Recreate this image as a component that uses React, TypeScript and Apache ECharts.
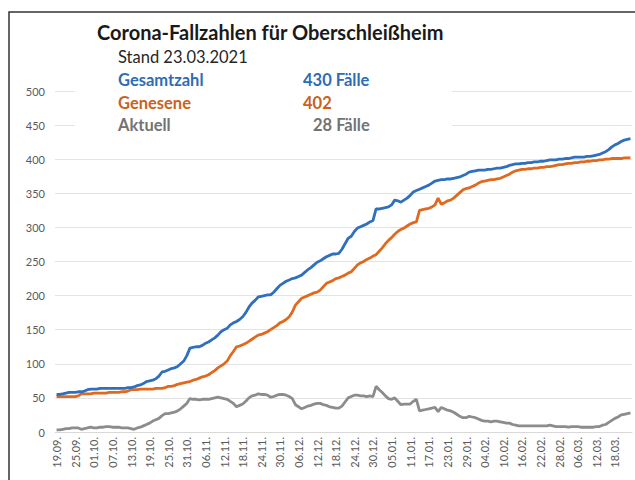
import React, { useEffect, useRef } from "react";
import * as echarts from "echarts";

// Daily categories 19.09.2020 – 23.03.2021
const monthSpans: [number, number, number][] = [
  // [month, firstDay, lastDay]
  [9, 19, 30],
  [10, 1, 31],
  [11, 1, 30],
  [12, 1, 31],
  [1, 1, 31],
  [2, 1, 28],
  [3, 1, 23],
];
const categories: string[] = [];
monthSpans.forEach(([m, a, b]) => {
  for (let d = a; d <= b; d++) {
    categories.push(String(d).padStart(2, "0") + "." + String(m).padStart(2, "0") + ".");
  }
});

const yTicks = [0, 50, 100, 150, 200, 250, 300, 350, 400, 450, 500];

// Gesamtzahl (rows of 6 days, each row starts at a labelled date)
const gesamtzahl = [
  55, 55, 56, 57, 58, 58,
  58, 59, 59, 60, 62, 63,
  63, 63, 64, 64, 64, 64,
  64, 64, 64, 64, 64, 65,
  65, 66, 68, 69, 71, 74,
  75, 76, 78, 82, 88, 89,
  91, 93, 94, 96, 100, 104,
  112, 123, 124, 125, 125, 127,
  130, 132, 135, 138, 142, 147,
  150, 152, 157, 160, 162, 165,
  169, 175, 183, 189, 193, 198,
  199, 200, 201, 201, 205, 210,
  215, 218, 221, 223, 225, 226,
  228, 230, 234, 238, 241, 245,
  249, 251, 254, 257, 259, 261,
  261, 262, 268, 276, 284, 287,
  294, 299, 301, 303, 305, 308,
  310, 327, 327, 328, 329, 330,
  333, 340, 339, 337, 340, 343,
  347, 352, 354, 356, 358, 360,
  362, 365, 368, 369, 370, 370,
  371, 371, 372, 373, 374, 376,
  378, 381, 382, 383, 384, 384,
  384, 385, 385, 386, 387, 387,
  388, 389, 391, 392, 393, 393,
  394, 394, 395, 395, 396, 396,
  397, 397, 398, 399, 399, 399,
  400, 400, 401, 401, 402, 403,
  403, 403, 403, 404, 404, 405,
  406, 407, 409, 411, 414, 418,
  421, 423, 426, 428, 429, 430,
];

// Genesene
const genesene = [
  52, 52, 52, 52, 52, 52,
  52, 53, 56, 56, 56, 56,
  57, 57, 57, 57, 57, 58,
  58, 58, 58, 59, 59, 60,
  62, 62, 62, 63, 63, 63,
  63, 63, 64, 64, 64, 65,
  67, 67, 68, 70, 71, 72,
  73, 74, 76, 77, 79, 81,
  82, 84, 87, 90, 94, 97,
  100, 104, 112, 118, 125, 126,
  128, 130, 133, 136, 139, 142,
  143, 145, 147, 150, 153, 156,
  160, 162, 165, 169, 176, 186,
  191, 196, 198, 200, 202, 204,
  205, 208, 213, 218, 220, 222,
  225, 226, 228, 230, 233, 235,
  240, 245, 248, 250, 253, 255,
  258, 260, 265, 270, 276, 281,
  285, 290, 294, 297, 299, 302,
  305, 307, 308, 325, 326, 327,
  328, 330, 333, 343, 334, 336,
  339, 340, 343, 347, 351, 355,
  357, 358, 360, 362, 365, 367,
  368, 369, 370, 370, 371, 372,
  374, 376, 378, 381, 383, 384,
  385, 385, 386, 386, 387, 387,
  388, 388, 389, 389, 390, 391,
  392, 392, 393, 394, 394, 395,
  395, 396, 396, 397, 397, 398,
  398, 399, 399, 400, 400, 401,
  401, 401, 401, 402, 402, 402,
];

// Aktuell
const aktuell = [
  3, 3, 4, 5, 5, 6,
  6, 6, 4, 5, 6, 7,
  6, 6, 7, 7, 8, 8,
  7, 7, 7, 6, 6, 6,
  5, 4, 6, 7, 9, 11,
  13, 16, 18, 20, 24, 27,
  27, 28, 29, 31, 34, 38,
  42, 49, 48, 48, 47, 48,
  48, 48, 49, 50, 51, 50,
  49, 48, 45, 42, 37, 39,
  41, 45, 50, 53, 54, 56,
  55, 55, 54, 51, 52, 54,
  55, 55, 54, 52, 49, 40,
  37, 34, 36, 38, 39, 41,
  42, 42, 40, 39, 37, 36,
  35, 35, 38, 44, 50, 52,
  54, 54, 53, 53, 52, 53,
  52, 67, 62, 58, 53, 49,
  48, 50, 45, 40, 41, 41,
  41, 45, 48, 31, 32, 33,
  34, 35, 36, 30, 36, 34,
  32, 31, 29, 26, 23, 21,
  21, 23, 22, 21, 19, 17,
  16, 16, 15, 16, 16, 15,
  14, 13, 13, 11, 10, 9,
  9, 9, 9, 9, 9, 9,
  9, 9, 9, 10, 9, 8,
  8, 8, 8, 7, 8, 8,
  8, 7, 7, 7, 7, 7,
  8, 8, 10, 11, 14, 17,
  20, 22, 25, 26, 27, 28,
];

const titleText = "Corona-Fallzahlen für Oberschleißheim";
const standText = "Stand 23.03.2021";
const legendRows = [
  { name: "Gesamtzahl", value: "430 Fälle", color: "#2e6db4", valueX: 303 },
  { name: "Genesene", value: "402", color: "#c8621c", valueX: 303 },
  { name: "Aktuell", value: "28 Fälle", color: "#737373", valueX: 313 },
];

const FONT = "Lato, 'Open Sans', sans-serif";

export default function App() {
  const ref = useRef<HTMLDivElement>(null);
  useEffect(() => {
    if (!ref.current) return;
    const chart = echarts.init(ref.current, undefined, { renderer: "svg" });
    const legendGraphics: any[] = [];
    legendRows.forEach((r, i) => {
      const y = 80 + i * 22.5;
      legendGraphics.push({
        type: "text",
        x: 118,
        y,
        z: 20,
        style: { text: r.name, fill: r.color, font: `bold 16.5px ${FONT}`, verticalAlign: "middle" },
      });
      legendGraphics.push({
        type: "text",
        x: r.valueX,
        y,
        z: 20,
        style: { text: r.value, fill: r.color, font: `bold 16.5px ${FONT}`, verticalAlign: "middle" },
      });
    });
    chart.setOption({
      animation: false,
      backgroundColor: "#ffffff",
      textStyle: { fontFamily: FONT },
      grid: { left: 55, right: 3, top: 91, bottom: 48, containLabel: false },
      xAxis: {
        type: "category",
        data: categories,
        boundaryGap: true,
        axisLine: { show: true, lineStyle: { color: "#d9d9d9", width: 1 } },
        axisTick: { show: false },
        axisLabel: {
          interval: 5,
          rotate: 90,
          fontSize: 11,
          color: "#595959",
          margin: 5,
          fontFamily: FONT,
        },
      },
      yAxis: {
        type: "value",
        min: yTicks[0],
        max: yTicks[yTicks.length - 1],
        interval: 50,
        axisLine: { show: false },
        axisTick: { show: false },
        axisLabel: { fontSize: 11, color: "#595959", margin: 10, fontFamily: FONT },
        splitLine: { lineStyle: { color: "#e3e3e3", width: 1 } },
      },
      series: [
        {
          name: "Gesamtzahl",
          type: "line",
          data: gesamtzahl,
          showSymbol: false,
          lineStyle: { color: "#2f6fbd", width: 2.8 },
          z: 4,
        },
        {
          name: "Genesene",
          type: "line",
          data: genesene,
          showSymbol: false,
          lineStyle: { color: "#e0691e", width: 2.8 },
          z: 3,
        },
        {
          name: "Aktuell",
          type: "line",
          data: aktuell,
          showSymbol: false,
          lineStyle: { color: "#8c8c8c", width: 2.8 },
          z: 2,
        },
      ],
      graphic: [
        {
          type: "rect",
          shape: { x: 75, y: 70, width: 377, height: 72 },
          style: { fill: "#ffffff" },
          z: 10,
        },
        {
          type: "rect",
          shape: { x: 9, y: 12, width: 700, height: 600 },
          style: { fill: "none", stroke: "#333333", lineWidth: 1.5 },
          z: 30,
          silent: true,
        },
        {
          type: "text",
          x: 97,
          y: 32,
          z: 20,
          style: { text: titleText, fill: "#1a1a1a", font: `bold 20px ${FONT}`, verticalAlign: "middle" },
        },
        {
          type: "text",
          x: 118,
          y: 57,
          z: 20,
          style: { text: standText, fill: "#262626", font: `16.5px ${FONT}`, verticalAlign: "middle" },
        },
        ...legendGraphics,
      ],
    });
    return () => chart.dispose();
  }, []);
  return (
    <div
      ref={ref}
      style={{ position: "fixed", left: 0, top: 0, width: 635, height: 480 }}
    />
  );
}
